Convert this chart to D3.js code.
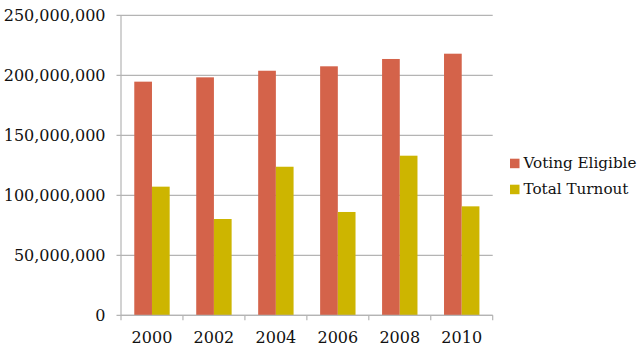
<!DOCTYPE html>
<html><head><meta charset="utf-8">
<script src="https://cdn.jsdelivr.net/npm/d3@7"></script>
<style>body{margin:0;background:#fff}svg{display:block}</style>
</head><body>
<svg id="c" width="640" height="352"></svg>
<script>
const years = ["2000","2002","2004","2006","2008","2010"];
const seriesNames = ["Voting Eligible","Total Turnout"];
const votingEligible = [194700000,198300000,203800000,207500000,213600000,218000000];
const totalTurnout = [107200000,80250000,123800000,86100000,133000000,90800000];
const yTicks = [0,50000000,100000000,150000000,200000000,250000000];
const colors = ["#D4634A","#CDB500"];

(function(){
const svg = d3.select("#c");
const mLeft = 121, mRight = 492.7, mTop = 15.3, mBottom = 315.3;
const x = d3.scaleBand().domain(years).range([mLeft, mRight]).paddingInner(0).paddingOuter(0);
const inner = d3.scaleBand().domain(seriesNames).range([0, x.bandwidth()]).paddingInner(0).paddingOuter(0.75);
const y = d3.scaleLinear().domain([0, 250000000]).range([mBottom, mTop]);
const font = "DejaVu Serif";
const grid = "#B4B4B4";

svg.append("g").selectAll("line").data(yTicks).join("line")
  .attr("x1", mLeft - 4.5).attr("x2", mRight)
  .attr("y1", d => y(d)).attr("y2", d => y(d))
  .attr("stroke", grid).attr("stroke-width", 1.2);
svg.append("line").attr("x1", mLeft).attr("x2", mLeft).attr("y1", mTop).attr("y2", mBottom)
  .attr("stroke", grid).attr("stroke-width", 1.2);
const bounds = years.map(d => x(d)).concat([mRight]);
svg.append("g").selectAll("line").data(bounds).join("line")
  .attr("x1", d => d).attr("x2", d => d).attr("y1", mBottom).attr("y2", mBottom + 5)
  .attr("stroke", grid).attr("stroke-width", 1.2);

const fmt = d3.format(",");
svg.append("g").selectAll("text").data(yTicks).join("text")
  .attr("x", 105.5).attr("y", d => y(d)).attr("dy", "0.35em")
  .attr("text-anchor", "end").attr("font-family", font).attr("font-size", 16)
  .attr("fill", "#111").text(d => fmt(d));

const data = years.map((yr, i) => ({yr, vals: [votingEligible[i], totalTurnout[i]]}));
const g = svg.append("g").selectAll("g").data(data).join("g")
  .attr("transform", d => `translate(${x(d.yr)},0)`);
g.selectAll("rect").data(d => d.vals.map((v, j) => ({v, s: seriesNames[j], j}))).join("rect")
  .attr("x", d => inner(d.s)).attr("width", inner.bandwidth())
  .attr("y", d => y(d.v)).attr("height", d => mBottom - y(d.v))
  .attr("fill", d => colors[d.j]);

svg.append("line").attr("x1", mLeft).attr("x2", mRight).attr("y1", mBottom).attr("y2", mBottom)
  .attr("stroke", grid).attr("stroke-width", 1.2);

svg.append("g").selectAll("text").data(years).join("text")
  .attr("x", d => x(d) + x.bandwidth() / 2).attr("y", 343)
  .attr("text-anchor", "middle").attr("font-family", font).attr("font-size", 16)
  .attr("fill", "#111").text(d => d);

const lg = svg.append("g").selectAll("g").data(seriesNames).join("g")
  .attr("transform", (d, i) => `translate(510,${158.7 + i * 26})`);
lg.append("rect").attr("width", 9.5).attr("height", 9.5).attr("fill", (d, i) => colors[i]);
lg.append("text").attr("x", 13.5).attr("y", 9.7).attr("font-family", font).attr("font-size", 15.2)
  .attr("fill", "#111").text(d => d);
})();
</script>
</body></html>
